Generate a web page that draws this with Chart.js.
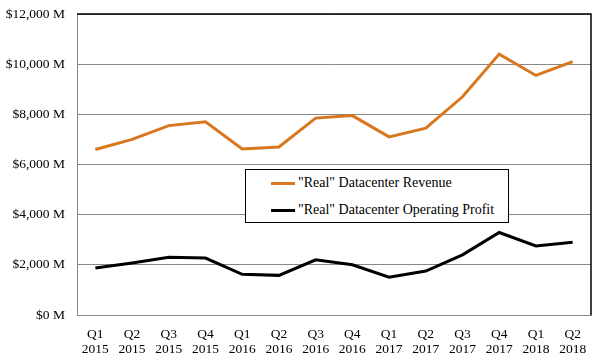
<!DOCTYPE html>
<html>
<head>
<meta charset="utf-8">
<script src="https://cdn.jsdelivr.net/npm/chart.js@4"></script>
<style>
    html, body { margin: 0; padding: 0; background: #fff; }
    #wrap { position: relative; width: 599px; height: 363px; }
    #legend {
        position: absolute; left: 245px; top: 169px; width: 262px; height: 52px;
        border: 1px solid #000; background: #fff;
        font-family: "Liberation Serif", "Times New Roman", "DejaVu Serif", serif; font-size: 14px; color: #000;
    }
    .lg-item { position: absolute; left: 25px; display: flex; align-items: center; }
    .lg-line { width: 24px; height: 3px; margin-right: 3px; }
</style>
</head>
<body>
<div id="wrap">
    <canvas id="chart" width="599" height="363"></canvas>
    <div id="legend"></div>
</div>
<script>
const quarters = ['Q1', 'Q2', 'Q3', 'Q4', 'Q1', 'Q2', 'Q3', 'Q4', 'Q1', 'Q2', 'Q3', 'Q4', 'Q1', 'Q2'];
const years = ['2015', '2015', '2015', '2015', '2016', '2016', '2016', '2016', '2017', '2017', '2017', '2017', '2018', '2018'];
const revenue = [6600, 7000, 7550, 7700, 6620, 6700, 7850, 7950, 7100, 7450, 8700, 10400, 9550, 10100];
const profit = [1870, 2070, 2300, 2270, 1620, 1580, 2200, 2000, 1510, 1750, 2400, 3290, 2750, 2900];
const seriesNames = ['"Real" Datacenter Revenue', '"Real" Datacenter Operating Profit'];
const seriesColors = ['#d9771f', '#000000'];

const FONT = { family: '"Liberation Serif", "Times New Roman", "DejaVu Serif", serif', size: 13.5 };

// black frame on top and right of plot area
const frame = {
    id: 'frame',
    afterDraw(chart) {
        const { ctx, chartArea: a } = chart;
        ctx.save();
        ctx.strokeStyle = '#000';
        ctx.lineWidth = 1.5;
        ctx.beginPath();
        ctx.moveTo(a.left, a.top);
        ctx.lineTo(a.right, a.top);
        ctx.lineTo(a.right, a.bottom);
        ctx.stroke();
        ctx.restore();
    },
};

const labels = quarters.map((q, i) => [q, years[i]]);

new Chart(document.getElementById('chart'), {
    type: 'line',
    data: {
        labels,
        datasets: [
            { label: seriesNames[0], data: revenue, borderColor: seriesColors[0], borderWidth: 3, pointRadius: 0, tension: 0 },
            { label: seriesNames[1], data: profit, borderColor: seriesColors[1], borderWidth: 3, pointRadius: 0, tension: 0 },
        ],
    },
    options: {
        responsive: false,
        animation: false,
        layout: { padding: { top: 14, right: 8, left: 0, bottom: 0 } },
        plugins: { legend: { display: false }, tooltip: { enabled: false } },
        scales: {
            x: {
                offset: true,
                grid: { display: false },
                border: { color: '#888', width: 1 },
                ticks: { color: '#000', font: { ...FONT, lineHeight: 1.1 }, padding: 4, maxRotation: 0, autoSkip: false },
                afterFit(s) { s.height = 48; s.paddingLeft = 0; s.paddingRight = 0; },
            },
            y: {
                min: 0,
                max: 12000,
                grid: { color: '#888', drawTicks: false, lineWidth: 1 },
                border: { color: '#888', width: 1 },
                ticks: {
                    stepSize: 2000,
                    color: '#000',
                    font: FONT,
                    padding: 12,
                    callback: v => '$' + v.toLocaleString('en-US') + ' M',
                },
                afterFit(s) { s.width = 77; s.paddingTop = 0; s.paddingBottom = 0; },
            },
        },
    },
    plugins: [frame],
});

document.getElementById('legend').innerHTML = seriesNames.map((name, i) => `
    <div class="lg-item" style="top:${i === 0 ? 5 : 32}px">
      <span class="lg-line" style="background:${seriesColors[i]}"></span><span>${name}</span>
    </div>`).join('');
</script>
</body>
</html>
